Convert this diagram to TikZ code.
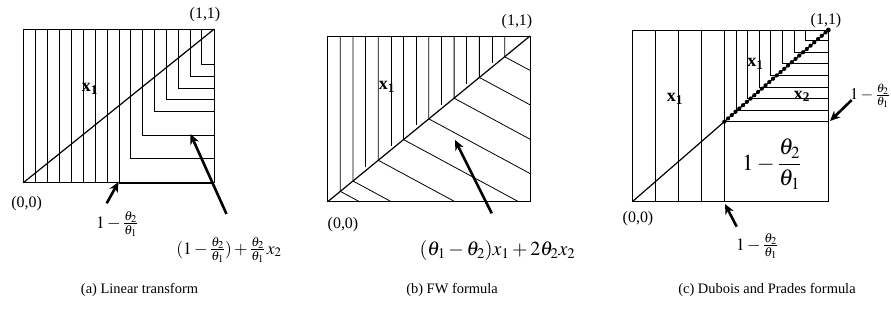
\documentclass[tikz,border=0pt]{standalone}
\usepackage{mathptmx}
\usepackage{fontspec}
\setmainfont{Liberation Serif}
\usetikzlibrary{arrows.meta}
\begin{document}
\begin{tikzpicture}[x=1bp,y=-1bp]
\tikzset{
  hatch/.style={line width=0.8bp},
  frame/.style={line width=1bp},
  diag/.style={line width=1.2bp},
  bigarrow/.style={line width=2.6bp, -{Stealth[length=10bp,width=9bp,inset=3bp]}},
  lbl/.style={inner sep=0pt, font=\fontsize{16}{18}\selectfont},
  slbl/.style={inner sep=0pt, font=\fontsize{17.5}{20}\selectfont},
  mlbl/.style={inner sep=0pt, font=\fontsize{20}{22}\selectfont},
  biglbl/.style={inner sep=0pt, font=\fontsize{23}{26}\selectfont},
  vlbl/.style={inner sep=0pt, font=\fontsize{18}{20}\selectfont\bfseries},
  captext/.style={inner sep=0pt, font=\fontsize{14.5}{17}\selectfont},
  dots/.style={line width=4.2bp, line cap=round, dash pattern=on 0bp off 5bp}
}
\useasboundingbox (0,0) rectangle (891,324);

% ---------------- panel (a)
\coordinate (a00) at (23.3,182.7);
\coordinate (a11) at (214.3,29);
\foreach \k in {1,...,8}
  \draw[hatch] ({23.3+12*\k},29) -- ({23.3+12*\k},182.7);
\foreach \x/\y in {130.7/158.8, 142.3/135.7, 154/111.5, 166/99.6, 178/88, 190/76, 201.7/64}
  \draw[hatch] (\x,29) -- (\x,\y) -- (214.3,\y);
\draw[line width=2bp] (119.3,182.7) -- (214.3,182.7);
\draw[frame] (a00) rectangle (a11);
\draw[diag] (a00) -- (a11);
\node[lbl] (a11l) at (205,15) {(1,1)};
\node[lbl] (a00l) at (26.7,203.3) {(0,0)};
\node[vlbl] (ax1) at (90,89) {x\textsubscript{1}};
\node[slbl] (at1) at (117,224) {$1-\frac{\theta_2}{\theta_1}$};
\node[slbl] (at2) at (229,250) {$(1-\frac{\theta_2}{\theta_1})+\frac{\theta_2}{\theta_1}\,x_2$};
\coordinate (aa1s) at (106.7,203.3);
\coordinate (aa1e) at (118.5,182);
\coordinate (aa2s) at (226.5,214);
\coordinate (aa2e) at (190.5,134);
\draw[bigarrow] (aa1s) -- (aa1e);
\draw[bigarrow] (aa2s) -- (aa2e);

% ---------------- panel (b)
\coordinate (b00) at (327.7,201.7);
\coordinate (b11) at (530,36);
% verticals meeting the diagonal, then slanted
\foreach \x/\d/\ex/\ey in {340.34/191.35/359.5/201.7, 352.98/180.99/391.3/201.7,
   378.26/160.28/455.0/201.7, 403.54/139.58/518.6/201.7, 428.82/118.87/530/173.5,
   454.1/98.17/530/139.2, 479.38/77.46/530/104.8, 504.66/56.75/530/70.4}
  \draw[hatch] (\x,36) -- (\x,\d) -- (\ex,\ey);
% verticals stopping short of the diagonal
\foreach \x in {365.62, 390.9, 416.18, 441.46, 466.74, 492.02}
  \draw[hatch] (\x,36) -- (\x,{201.7-0.8191*(\x-327.7)-4});
\draw[frame] (b00) rectangle (b11);
\draw[diag] (b00) -- (b11);
\node[lbl] (b11l) at (517,21.5) {(1,1)};
\node[lbl] (b00l) at (343,225) {(0,0)};
\node[vlbl] (bx1) at (387,87) {x\textsubscript{1}};
\node[mlbl] (bt) at (497.5,251) {$(\theta_1-\theta_2)x_1+2\theta_2 x_2$};
\coordinate (bas) at (491.7,213.3);
\coordinate (bae) at (455,140);
\draw[bigarrow] (bas) -- (bae);

% ---------------- panel (c)
\coordinate (c00) at (632.3,201.7);
\coordinate (c11) at (828.3,30);
\coordinate (cm) at (724.3,121.7);
\foreach \x in {655.7, 678.7, 701.7, 724.3}
  \draw[hatch] (\x,30) -- (\x,201.7);
\draw[hatch] (cm) -- (828.3,121.7);
\foreach \k in {1,...,7}
  \draw[hatch] ({724.3+11.6*\k},30) -- ({724.3+11.6*\k},{121.7-11.6*\k}) -- (828.3,{121.7-11.6*\k});
\draw[frame] (c00) rectangle (c11);
\draw[diag] (c00) -- (cm);
\draw[diag] (cm) -- (c11);
\draw[dots] (cm) -- (c11);
\fill (c11) circle (2.4bp);
\node[lbl] (c11l) at (826,20.5) {(1,1)};
\node[lbl] (c00l) at (638,219) {(0,0)};
\node[vlbl] (cx1a) at (675,99) {x\textsubscript{1}};
\node[vlbl] (cx1b) at (755.5,64) {x\textsubscript{1}};
\node[vlbl] (cx2) at (802,96.5) {x\textsubscript{2}};
\node[biglbl] (cbig) at (771.7,164) {$\displaystyle 1-\frac{\theta_2}{\theta_1}$};
\node[slbl, anchor=east, font=\fontsize{16.5}{19}\selectfont] (cright) at (890,96) {$1-\frac{\theta_2}{\theta_1}$};
\node[slbl] (cbot) at (757,246) {$1-\frac{\theta_2}{\theta_1}$};
\coordinate (ca1s) at (851.7,100);
\coordinate (ca1e) at (830,121);
\coordinate (ca2s) at (736.7,226.7);
\coordinate (ca2e) at (725,204);
\draw[bigarrow] (ca1s) -- (ca1e);
\draw[bigarrow] (ca2s) -- (ca2e);

% ---------------- captions
\node[captext] (capa) at (139.5,290) {(a) Linear transform};
\node[captext] (capb) at (452,290) {(b) FW formula};
\node[captext] (capc) at (767,290) {(c) Dubois and Prades formula};
\end{tikzpicture}
\end{document}
